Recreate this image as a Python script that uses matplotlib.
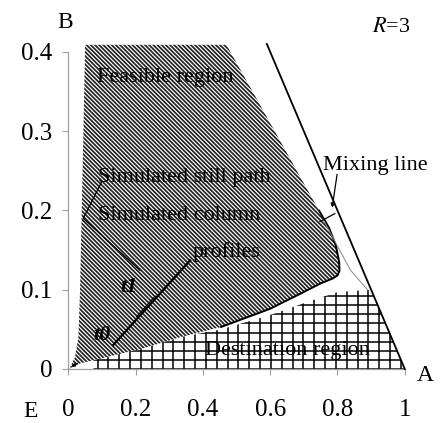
import numpy as np
import matplotlib
matplotlib.use('Agg')
import matplotlib.pyplot as plt
from matplotlib.patches import Polygon

plt.rcParams['font.family'] = ['Liberation Serif', 'DejaVu Serif']
plt.rcParams['mathtext.fontset'] = 'stix'
plt.rcParams['hatch.linewidth'] = 1.25

# feasible region outline (x = A, y = B)
feas_x = [0.05, 0.045, 0.04, 0.035, 0.03, 0.02, 0.005, 0.0,
          0.035, 0.124, 0.222, 0.332, 0.454, 0.60, 0.69, 0.75, 0.785, 0.800, 0.806,
          0.805, 0.795, 0.775, 0.745, 0.47]
feas_y = [0.409, 0.3, 0.2, 0.1, 0.04, 0.015, 0.002, 0.0,
          0.007, 0.016, 0.026, 0.040, 0.053, 0.076, 0.095, 0.108, 0.114, 0.118, 0.124,
          0.135, 0.156, 0.178, 0.20, 0.409]

# simulated still path (black part of the border)
still_x = [0.745, 0.775, 0.795, 0.805, 0.806, 0.800, 0.785, 0.75, 0.69, 0.60, 0.454]
still_y = [0.20, 0.178, 0.156, 0.135, 0.124, 0.118, 0.114, 0.108, 0.095, 0.076, 0.053]

# thin line next to the mixing line
thin_x = [0.757, 0.838, 0.889]
thin_y = [0.189, 0.125, 0.10]

# destination region
dest_x = [0.075, 0.075, 0.124, 0.222, 0.332, 0.454, 0.60, 0.70, 0.80, 0.90, 1.0]
dest_y = [0.0, 0.011, 0.016, 0.026, 0.040, 0.050, 0.068, 0.083, 0.097, 0.10, 0.0]

# mixing line
mix_x = [0.59, 1.0]
mix_y = [0.41, 0.0]

# column profile t0 -> t1
prof_x = [0.133, 0.362]
prof_y = [0.030, 0.137]
prof2_x = [0.203, 0.258]
prof2_y = [0.066, 0.092]

# pointer lines
ptr_col_x = [0.099, 0.0446, 0.213]
ptr_col_y = [0.236, 0.190, 0.1245]
ptr_mix = [(0.80, 0.249), (0.783, 0.200)]
conn_x = [0.748, 0.792]
conn_y = [0.186, 0.196]

xticks = [0, 0.2, 0.4, 0.6, 0.8, 1]
xlabels = ['0', '0.2', '0.4', '0.6', '0.8', '1']
yticks = [0, 0.1, 0.2, 0.3, 0.4]
ylabels = ['0', '0.1', '0.2', '0.3', '0.4']

fig = plt.figure(figsize=(4.42, 4.23), dpi=100)
ax = fig.add_axes([0.1545, 0.1277, 0.7613, 0.7683])
ax.set_xlim(0, 1)
ax.set_ylim(0, 0.41)

feas = Polygon(np.column_stack([feas_x, feas_y]), closed=True, facecolor='none',
               edgecolor='#222222', linewidth=0, hatch='\\' * 8, zorder=2)
ax.add_patch(feas)

# grid of the destination region
dest = Polygon(np.column_stack([dest_x, dest_y]), closed=True, fill=False,
               linewidth=0)
ax.add_patch(dest)
vx = np.arange(0.087, 1.0, 0.0322)
hy = np.arange(0.0, 0.105, 0.0115)
vl = ax.vlines(vx, 0, 0.11, colors='black', linewidth=1.1, zorder=1)
hl = ax.hlines(hy, 0.07, 1.0, colors='black', linewidth=1.1, zorder=1)
vl.set_clip_path(dest)
hl.set_clip_path(dest)

ax.plot(still_x, still_y, color='black', linewidth=1.4, zorder=3)
ax.plot(thin_x, thin_y, color='#888888', linewidth=0.7, zorder=3)
ax.plot(mix_x, mix_y, color='black', linewidth=1.3, zorder=3, clip_on=False)
ax.plot(prof_x, prof_y, color='black', linewidth=1.6, zorder=3)
ax.plot(prof2_x, prof2_y, color='black', linewidth=0.8, zorder=3)
ax.plot(ptr_col_x, ptr_col_y, color='black', linewidth=0.9, zorder=3)
ax.plot(conn_x, conn_y, color='black', linewidth=0.9, zorder=3)
ax.annotate('', xy=ptr_mix[1], xytext=ptr_mix[0],
            arrowprops=dict(arrowstyle='-|>', color='black', lw=0.9,
                            mutation_scale=6), zorder=3)
ax.annotate('', xy=(0.002, 0.001), xytext=(0.035, 0.009),
            arrowprops=dict(arrowstyle='-|>', color='black', lw=0.8,
                            mutation_scale=5), zorder=3)

fs = 16
ax.text(0.0853, 0.362, 'Feasible region', fontsize=fs, zorder=4)
ax.text(0.088, 0.236, 'Simulated still path', fontsize=fs, zorder=4)
ax.text(0.088, 0.188, 'Simulated column', fontsize=fs, zorder=4)
ax.text(0.37, 0.1416, 'profiles', fontsize=fs, zorder=4)
ax.text(0.756, 0.251, 'Mixing line', fontsize=fs, zorder=4)
ax.text(0.406, 0.0177, 'Destination region', fontsize=fs, zorder=4)
ax.text(0.154, 0.097, 't1', fontsize=fs, style='italic', weight='bold', zorder=4)
ax.text(0.073, 0.0366, 't0', fontsize=fs, style='italic', weight='bold', zorder=4)

ax.text(-0.009, 0.437, 'B', fontsize=17, ha='center', va='center', clip_on=False)
ax.text(0.96, 0.431, r'$R$=3', fontsize=16, ha='center', va='center', clip_on=False)
ax.text(1.06, -0.0076, 'A', fontsize=17, ha='center', va='center', clip_on=False)
ax.text(-0.111, -0.054, 'E', fontsize=17, ha='center', va='center', clip_on=False)

for s in ['top', 'right']:
    ax.spines[s].set_visible(False)
for s in ['left', 'bottom']:
    ax.spines[s].set_color('#a0a0a0')
    ax.spines[s].set_linewidth(0.9)
ax.spines['left'].set_bounds(0, 0.4)

ax.set_xticks(xticks)
ax.set_xticklabels(xlabels)
ax.set_yticks(yticks)
ax.set_yticklabels(ylabels)
ax.tick_params(direction='out', length=4.5, width=0.8, color='#a0a0a0', labelsize=18)
ax.tick_params(axis='x', pad=17)
ax.tick_params(axis='y', pad=7)

fig.savefig('out.png', dpi=100)
